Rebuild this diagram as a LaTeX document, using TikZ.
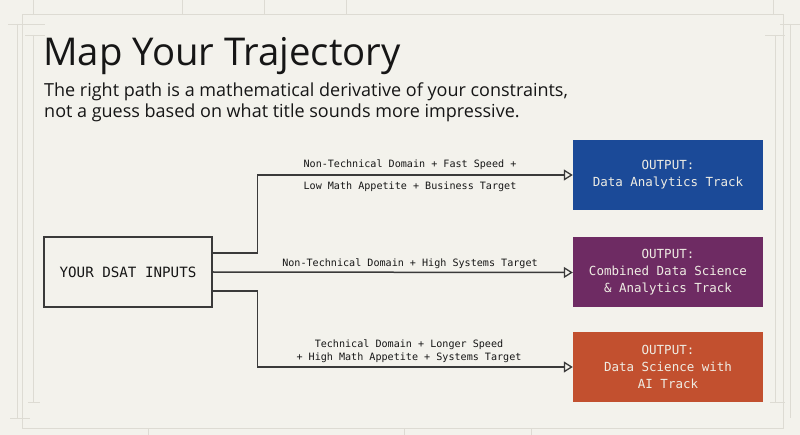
\documentclass[tikz,border=0pt]{standalone}
\usepackage{fontspec}
\setmainfont{Open Sans}
\newfontfamily\monofam{DejaVu Sans Mono}
\usetikzlibrary{arrows.meta}
\definecolor{bgc}{HTML}{F3F2EC}
\definecolor{framec}{HTML}{DDDBD3}
\definecolor{inkc}{HTML}{161616}
\definecolor{linec}{HTML}{3A3A3A}
\definecolor{bluec}{HTML}{1B4A98}
\definecolor{purplec}{HTML}{6E2B63}
\definecolor{orangec}{HTML}{C2502F}
\definecolor{paperc}{HTML}{EFEDE4}
\tikzset{
  framel/.style={draw=framec, line width=0.9pt},
  inbox/.style={draw=linec, line width=1.4pt, fill=bgc, minimum width=168pt, minimum height=70pt, inner sep=0pt,
     font=\monofam\fontsize{14.2}{17}\selectfont, text=inkc},
  outbox/.style={minimum width=190pt, minimum height=70pt, inner sep=0pt, align=center,
     font=\monofam\fontsize{12.5}{17}\selectfont, text=paperc},
  conn/.style={draw=linec, line width=1.5pt, -{Triangle[open, length=9pt, width=11pt, line width=1.3pt]}},
  lbl/.style={font=\monofam\fontsize{10.1}{13}\selectfont, text=inkc, align=center, inner sep=0pt},
  subt/.style={anchor=base west, inner sep=0pt, text=inkc, font=\fontsize{18}{20}\selectfont}
}
\begin{document}
\begin{tikzpicture}[x=1pt, y=-1pt]
\useasboundingbox (0,0) rectangle (800,435);
\fill[bgc] (0,0) rectangle (800,435);
% faint frame
\draw[framel] (22,14) rectangle (783,428);
\draw[framel] (17,24) -- (17,418);
\draw[framel] (33,35) -- (33,402);
\draw[framel] (775,35) -- (775,402);
\draw[framel] (790,24) -- (790,418);
\draw[framel] (8,24) -- (45,24);
\draw[framel] (25,35) -- (45,35);
\draw[framel] (765,35) -- (785,35);
\draw[framel] (780,24) -- (800,24);
\draw[framel] (10,418) -- (30,418);
\draw[framel] (28,402) -- (40,402);
\draw[framel] (770,402) -- (785,402);
\foreach \xx in {33,182,264,346,773} \draw[framel] (\xx,0) -- (\xx,14);
\foreach \xx in {148,404,531} \draw[framel] (\xx,428) -- (\xx,435);
% title
\node[anchor=base west, inner sep=0pt, text=inkc, font=\fontsize{38.3}{42}\selectfont] (title) at (43,66) {Map Your Trajectory};
\node[subt] (sub1) at (44,97) {The right path is a mathematical derivative of your constraints,};
\node[subt] (sub2) at (44,117.5) {not a guess based on what title sounds more impressive.};
% nodes
\node[inbox] (in) at (128,272) {YOUR DSAT INPUTS};
\node[outbox, fill=bluec] (o1) at (668,175) {OUTPUT:\\Data Analytics Track};
\node[outbox, fill=purplec] (o2) at (668,272.5) {OUTPUT:\\Combined Data Science\\\& Analytics Track};
\node[outbox, fill=orangec] (o3) at (668,367) {OUTPUT:\\Data Science with\\AI Track};
% connectors
\draw[conn] ([yshift=19pt]in.east) -- ++(45,0) |- (o1.west);
\draw[conn] (in.east) -- (o2.west);
\draw[conn] ([yshift=-19pt]in.east) -- ++(45,0) |- (o3.west);
% labels
\node[lbl] (l1a) at (410,165) {Non-Technical Domain + Fast Speed +};
\node[lbl] (l1b) at (410,186.5) {Low Math Appetite + Business Target};
\node[lbl] (l2) at (410,263.5) {Non-Technical Domain + High Systems Target};
\node[lbl] (l3a) at (409,344.5) {Technical Domain + Longer Speed};
\node[lbl] (l3b) at (409,358) {+ High Math Appetite + Systems Target};
\end{tikzpicture}
\end{document}
